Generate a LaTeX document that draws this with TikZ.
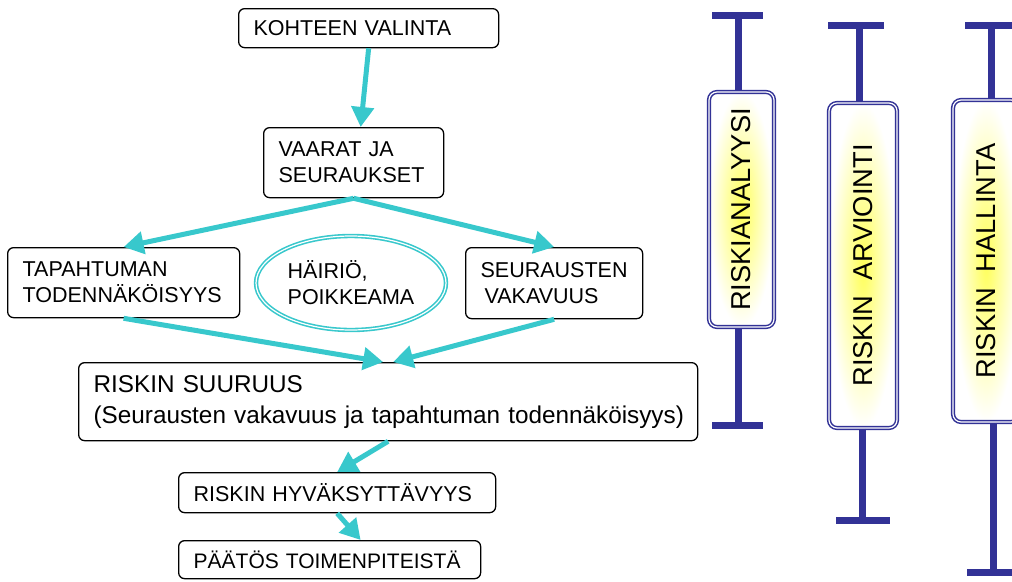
\documentclass[tikz,border=0pt]{standalone}
\usepackage{fontspec}
\setmainfont{Liberation Sans}
\usetikzlibrary{shapes, arrows.meta}
\definecolor{flowteal}{RGB}{56,200,204}
\definecolor{barblue}{RGB}{50,50,150}

\begin{document}
\begin{tikzpicture}[x=1pt, y=-1pt,
    box/.style = {draw, rounded corners=6pt, line width=1.3pt, anchor=north west, align=left,
        inner xsep=15pt, inner ysep=0pt, font=\fontsize{21.5}{26}\selectfont},
    disturb/.style = {ellipse, draw=flowteal, double=white, line width=1.6pt, double distance=1.2pt,
        minimum width=190pt, minimum height=94pt, align=left, font=\fontsize{21.5}{26}\selectfont},
    phase/.style = {draw=barblue, double=white, line width=1.5pt, double distance=1.2pt,
        rounded corners=8pt, rotate=90, inner color=yellow!65, outer color=white,
        font=\fontsize{27.3}{32}\selectfont},
    flow/.style = {flowteal, line width=5pt, -{Triangle[length=20pt, width=22pt]}},
    bar/.style = {barblue, line width=7pt}]

    \useasboundingbox (0,0) rectangle (1012,581);
    \clip (0,0) rectangle (1012,581);

    % flow chart
    \node[box, text width=230pt, minimum height=39pt] (kohde)     at (238,8)   {KOHTEEN VALINTA};
    \node[box, text width=150pt, minimum height=70pt] (vaarat)    at (263,127) {VAARAT JA\\SEURAUKSET};
    \node[box, text width=202pt, minimum height=70pt] (tapahtuma) at (7,247)   {TAPAHTUMAN\\TODENNÄKÖISYYS};
    \node[box, text width=147pt, minimum height=71pt] (seuraus)   at (465,247) {SEURAUSTEN\\\hspace{4pt}VAKAVUUS};
    \node[disturb] (hairio) at (351,283) {HÄIRIÖ,\\POIKKEAMA};
    \node[box, text width=589pt, minimum height=78pt, font=\fontsize{24.3}{31}\selectfont] (suuruus) at (78,362)
        {RISKIN SUURUUS\\\mbox{(Seurausten vakavuus ja tapahtuman todennäköisyys)}};
    \node[box, text width=287pt, minimum height=40pt] (hyvaks) at (178,472) {RISKIN HYVÄKSYTTÄVYYS};
    \node[box, text width=272pt, minimum height=38pt, font=\fontsize{21}{26}\selectfont] (paatos) at (178,540) {PÄÄTÖS TOIMENPITEISTÄ};

    \draw[flow] (kohde.south) -- ([xshift=7pt]vaarat.north);
    \draw[flow] (vaarat.south) -- (tapahtuma.north);
    \draw[flow] (vaarat.south) -- (seuraus.north);
    \draw[flow] (tapahtuma.south) -- ([xshift=-5pt]suuruus.north);
    \draw[flow] (seuraus.south) -- ([xshift=5pt]suuruus.north);
    \draw[flow] (suuruus.south) -- (hyvaks.north);
    \draw[flow] (hyvaks.south) -- ([xshift=31pt]paatos.north);

    % phases
    \node[phase, minimum width=235pt, minimum height=65pt] (analyysi)  at (741.5,209.5) {RISKIANALYYSI};
    \node[phase, minimum width=325pt, minimum height=68pt] (arviointi) at (863,265.5)   {RISKIN\ \ ARVIOINTI};
    \node[phase, minimum width=322pt, minimum height=66pt] (hallinta)  at (986,261)     {RISKIN\ \ HALLINTA};

    \coordinate (analyysitop) at (738,15);
    \coordinate (analyysibot) at (738,425);
    \coordinate (arviointitop) at (859,25);
    \coordinate (arviointibot) at (862,520);
    \coordinate (hallintatop) at (991,25);
    \coordinate (hallintabot) at (993,572);

    \draw[bar] (analyysitop) -- (analyysitop |- analyysi.east) (analyysibot |- analyysi.west) -- (analyysibot);
    \draw[bar] ([xshift=-26pt]analyysitop) -- ([xshift=25pt]analyysitop);
    \draw[bar] ([xshift=-26pt]analyysibot) -- ([xshift=25pt]analyysibot);
    \draw[bar] (arviointitop) -- (arviointitop |- arviointi.east) (arviointibot |- arviointi.west) -- (arviointibot);
    \draw[bar] ([xshift=-31pt]arviointitop) -- ([xshift=25pt]arviointitop);
    \draw[bar] ([xshift=-26pt]arviointibot) -- ([xshift=28pt]arviointibot);
    \draw[bar] (hallintatop) -- (hallintatop |- hallinta.east) (hallintabot |- hallinta.west) -- (hallintabot);
    \draw[bar] ([xshift=-26pt]hallintatop) -- ([xshift=26pt]hallintatop);
    \draw[bar] ([xshift=-26pt]hallintabot) -- ([xshift=26pt]hallintabot);
\end{tikzpicture}
\end{document}
